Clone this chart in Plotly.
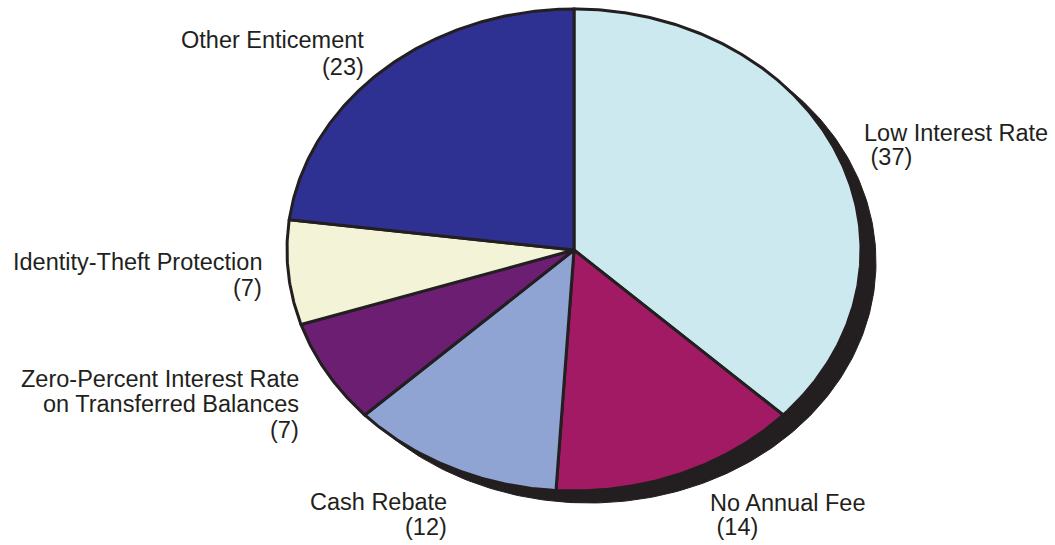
import numpy as np
import plotly.graph_objects as go

# ---- data ----
categories = ["Low Interest Rate", "No Annual Fee", "Cash Rebate",
              "Zero-Percent Interest Rate on Transferred Balances",
              "Identity-Theft Protection", "Other Enticement"]
values = [37, 14, 12, 7, 7, 23]
colors = ["#cce9ef", "#a11a63", "#8fa4d2", "#6b1e72", "#f3f4d7", "#2e3192"]

label_lines = [
    ["Low Interest Rate", " (37)"],
    ["No Annual Fee", " (14)"],
    ["Cash Rebate", "(12)"],
    ["Zero-Percent Interest Rate", "on Transferred Balances", "(7)"],
    ["Identity-Theft Protection", "(7)"],
    ["Other Enticement", "(23)"],
]

# ---- layout geometry (pixel space) ----
W, H = 1055, 545
cx, cy = 574, 250
rx, ry = 287, 241
sdx, sdy = 15, 12
INK = "#231f20"

fig = go.Figure()

# shadow
t = np.linspace(0, 2 * np.pi, 400)
fig.add_trace(go.Scatter(
    x=cx + sdx + rx * np.sin(t), y=cy + sdy - ry * np.cos(t),
    mode="lines", fill="toself", fillcolor=INK,
    line=dict(color=INK, width=1), hoverinfo="skip", showlegend=False))

total = sum(values)
start = 0.0
for cat, v, c in zip(categories, values, colors):
    a0 = start / total * 2 * np.pi
    a1 = (start + v) / total * 2 * np.pi
    n = max(int(v * 6), 8)
    ang = np.linspace(a0, a1, n)
    xs = np.concatenate([[cx], cx + rx * np.sin(ang), [cx]])
    ys = np.concatenate([[cy], cy - ry * np.cos(ang), [cy]])
    fig.add_trace(go.Scatter(
        x=xs, y=ys, mode="lines", fill="toself", fillcolor=c,
        line=dict(color=INK, width=3), name=cat, hoverinfo="name",
        showlegend=False))
    start += v

# label placements (style/position only)
label_pos = [
    (862, "left", [133, 157]),
    (708, "left", [503, 527]),
    (449, "right", [502, 527]),
    (301, "right", [379, 404, 430]),
    (264, "right", [262, 288]),
    (366, "right", [40, 67]),
]
for lines, (lx, side, ys) in zip(label_lines, label_pos):
    for txt, yy in zip(lines, ys):
        fig.add_annotation(
            x=lx, y=yy, xref="x", yref="y", text=txt, showarrow=False,
            xanchor=side, yanchor="middle",
            font=dict(family="Liberation Sans, Arial, sans-serif", size=23.5, color=INK))

fig.update_layout(
    width=W, height=H, margin=dict(l=0, r=0, t=0, b=0),
    paper_bgcolor="white", plot_bgcolor="white",
    xaxis=dict(range=[0, W], visible=False, fixedrange=True),
    yaxis=dict(range=[H, 0], visible=False, fixedrange=True),
)
fig.write_html("out.html")
